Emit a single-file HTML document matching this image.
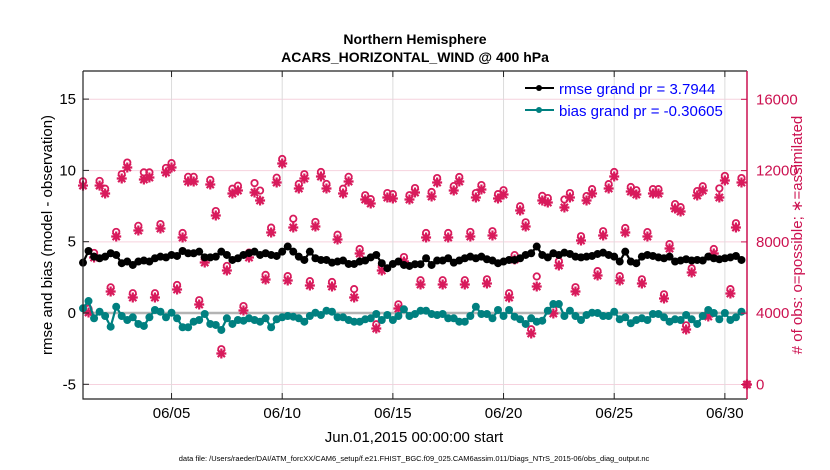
<!DOCTYPE html>
<html><head><meta charset="utf-8"><style>
body{margin:0;background:#fff;}
svg{display:block;font-family:"Liberation Sans",Arial,sans-serif;}
</style></head><body>
<svg id="chart" width="830" height="470" viewBox="0 0 830 470">
<text x="415" y="44" text-anchor="middle" font-size="14" font-weight="bold">Northern Hemisphere</text>
<text x="415" y="62" text-anchor="middle" font-size="14" font-weight="bold">ACARS_HORIZONTAL_WIND @ 400 hPa</text>
<g id="grid"></g>
<g id="marks"></g>
<g id="axes"></g>
<text transform="translate(52,235) rotate(-90)" text-anchor="middle" font-size="15">rmse and bias (model - observation)</text>
<text transform="translate(802,235) rotate(-90)" text-anchor="middle" font-size="15" fill="#cc1150"># of obs: o=possible; ∗=assimilated</text>
<text x="414" y="442" text-anchor="middle" font-size="15">Jun.01,2015 00:00:00 start</text>
<text x="414" y="461" text-anchor="middle" font-size="7.5">data file: /Users/raeder/DAI/ATM_forcXX/CAM6_setup/f.e21.FHIST_BGC.f09_025.CAM6assim.011/Diags_NTrS_2015-06/obs_diag_output.nc</text>
<g>
<line x1="525" y1="88" x2="554" y2="88" stroke="#000" stroke-width="2"/>
<circle cx="539" cy="88" r="3" fill="#000"/>
<text x="559" y="94" font-size="15" fill="#0000ff">rmse grand pr = 3.7944</text>
<line x1="525" y1="110" x2="554" y2="110" stroke="#008080" stroke-width="2"/>
<circle cx="539" cy="110" r="3" fill="#008080"/>
<text x="559" y="116" font-size="15" fill="#0000ff">bias grand pr = -0.30605</text>
</g>
</svg>
<script>
const rmse=[3.53,4.35,3.95,3.84,3.95,4.19,4.07,3.49,3.61,3.37,3.61,3.68,3.61,3.84,3.95,3.9,4.07,4.0,4.35,4.19,4.19,4.3,3.9,3.9,3.95,4.3,4.07,3.72,3.84,4.07,4.2,4.3,4.07,4.19,4.07,4.0,4.3,4.66,4.3,3.95,3.72,4.3,3.84,3.72,3.72,3.53,3.61,3.68,3.44,3.44,3.61,3.68,3.9,4.07,3.49,3.14,3.44,3.61,3.37,3.3,3.42,3.42,3.84,3.37,3.68,3.68,3.84,3.53,3.68,3.84,3.95,3.84,3.95,3.77,3.68,3.49,3.61,3.72,3.72,3.84,4.07,4.19,4.66,4.07,3.9,4.19,4.07,4.23,4.14,3.95,3.9,3.95,4.0,4.14,4.23,4.07,3.95,3.61,4.3,3.61,3.49,3.95,4.07,4.0,3.9,3.84,3.95,3.61,3.68,3.77,3.68,3.72,3.68,3.95,3.84,3.77,3.84,3.9,4.0,3.72];
const bias=[0.33,0.84,-0.37,0.09,-0.21,-0.96,0.44,-0.21,-0.49,-0.3,-0.77,-0.91,-0.3,0.21,0.09,-0.3,0.02,-0.37,-1.0,-1.0,-0.61,-0.49,-0.07,-0.77,-0.84,-1.19,-0.37,-0.77,-0.49,-0.54,-0.37,-0.49,-0.61,-0.37,-1.0,-0.44,-0.3,-0.21,-0.26,-0.37,-0.61,-0.21,0.02,-0.14,0.16,0.09,-0.3,-0.3,-0.49,-0.61,-0.61,-0.44,-0.37,-0.07,-0.49,-0.14,-0.49,-0.21,0.26,-0.21,-0.07,0.16,0.16,-0.07,-0.14,-0.07,-0.37,-0.37,-0.61,-0.61,-0.21,0.44,-0.07,-0.07,-0.37,0.21,-0.21,0.21,-0.26,-0.44,-0.77,-0.37,-0.61,-0.54,0.16,0.63,0.63,-0.21,0.16,-0.21,-0.49,-0.14,0.02,0,-0.21,-0.21,0.09,-0.44,-0.3,-0.72,-0.49,-0.37,-0.49,-0.07,-0.07,-0.3,-0.61,-0.44,-0.49,-0.14,-0.44,-0.77,-0.21,0.21,0,-0.44,0,-0.49,-0.3,0.09];
const nAssim=[11160,4040,7125,11160,10715,5217,8303,11557,12174,4881,8639,11500,11613,4881,8752,11893,12174,5330,8247,11388,11388,4488,6844,11220,9481,1739,6395,10715,10883,4151,7125,10771,10322,5890,8527,11332,12398,5834,8808,10996,11557,5554,8864,11669,10996,5498,8135,10715,11388,4881,7349,10379,10154,3142,6395,10491,10435,4264,6900,10379,10771,5610,8247,10547,11332,5610,8247,10883,11388,5610,8303,10491,10940,5666,8359,10435,10659,4881,7013,9761,8864,2861,5498,10322,10210,3983,6676,9930,10491,5217,8078,10322,10715,6115,8359,10996,11669,5834,8527,10827,10659,5666,8303,10715,10715,4825,7630,9874,9705,3086,6283,10603,10883,3815,7349,10491,11444,5105,8808,11332,0];
const nPoss=[11400,4250,7380,11420,10980,5450,8560,11800,12450,5120,8900,11900,11900,5120,9000,12150,12420,5580,8500,11650,11650,4730,7100,11480,9730,1980,6650,10980,11150,4400,7400,11300,10880,6150,8800,11600,12650,6080,9300,11250,11800,5800,9120,11920,11250,5750,8400,10980,11650,5350,7600,10620,10400,3380,6650,10740,10680,4500,7150,10620,11020,5850,8500,10800,11580,5850,8500,11130,11640,5850,8560,10740,11190,5900,8600,10680,10900,5120,7260,10000,9100,3100,6060,10580,10460,4220,6920,10380,10740,5460,8320,10570,10960,6360,8600,11240,11920,6080,8780,11080,10900,5900,8550,10960,10960,5060,7880,10120,9950,3320,6520,10850,11120,4060,7600,11000,11700,5350,9050,11580,0];
const xTickLabels=['06/05','06/10','06/15','06/20','06/25','06/30'];
const xTickDays=[4,9,14,19,24,29];
const yLeftTicks=[-5,0,5,10,15];
const yRightTicks=[0,4000,8000,12000,16000];

const L=83,R=747,T=71,B=399;
const sx=d=>L+(d/30)*(R-L);
const syL=v=>313-(v*71.3/5);
const syR=c=>384.5-(c*71.3/4000);
const NS='http://www.w3.org/2000/svg';
function mk(tag,attrs,parent){const e=document.createElementNS(NS,tag);for(const k in attrs)e.setAttribute(k,attrs[k]);parent.appendChild(e);return e;}
const grid=document.getElementById('grid'),marks=document.getElementById('marks'),axes=document.getElementById('axes');
yRightTicks.forEach(c=>{const l=mk('line',{x1:L,x2:R,y1:syR(c),y2:syR(c),stroke:'#f6d2de','stroke-width':1},grid);

});
xTickDays.forEach(d=>{const l=mk('line',{x1:sx(d),x2:sx(d),y1:T,y2:B,stroke:'#dcdcdc','stroke-width':1},grid);

});
const zl=mk('line',{x1:L,x2:R,y1:syL(0),y2:syL(0),stroke:'#b4b4b4','stroke-width':2.5},grid);


const dayOf=i=>i*0.25;
nPoss.forEach((c,i)=>{const c1=mk('circle',{cx:sx(dayOf(i)),cy:syR(c),r:3.2,fill:'none',stroke:'#d81b5c','stroke-width':1.8},marks);

});
nAssim.forEach((c,i)=>{const x=sx(dayOf(i)),y=syR(c),s=5,t=3.6;
const p=mk('path',{d:`M${x-s},${y}H${x+s}M${x},${y-s}V${y+s}M${x-t},${y-t}L${x+t},${y+t}M${x-t},${y+t}L${x+t},${y-t}`,stroke:'#d81b5c','stroke-width':2.2,fill:'none'},marks);

});
function series(arr,color,name){
const d=arr.map((v,i)=>(i?'L':'M')+sx(dayOf(i)).toFixed(1)+','+syL(v).toFixed(1)).join('');
const p=mk('path',{d:d,stroke:color,'stroke-width':2.2,fill:'none'},marks);


arr.forEach((v,i)=>{const c=mk('circle',{cx:sx(dayOf(i)),cy:syL(v),r:4,fill:color},marks);

});}
series(rmse,'#000','rmse');
series(bias,'#008080','bias');
const ab=mk('path',{d:`M${L},${T}H${R}M${L},${T}V${B}H${R}`,stroke:'#222','stroke-width':1.2,fill:'none'},axes);


const ra=mk('line',{x1:R,x2:R,y1:T,y2:B,stroke:'#cc1150','stroke-width':1.5},axes);


yLeftTicks.forEach(v=>{const y=syL(v);
mk('line',{x1:L,x2:L+6,y1:y,y2:y,stroke:'#222'},axes);
const t=mk('text',{x:L-7,y:y+5,'text-anchor':'end','font-size':15},axes);t.textContent=v;

});
yRightTicks.forEach(c=>{const y=syR(c);
mk('line',{x1:R-6,x2:R,y1:y,y2:y,stroke:'#cc1150'},axes);
const t=mk('text',{x:R+9,y:y+5,'font-size':15,fill:'#cc1150'},axes);t.textContent=c;

});
xTickDays.forEach((d,i)=>{const x=sx(d);
mk('line',{x1:x,x2:x,y1:B,y2:B-6,stroke:'#222'},axes);
mk('line',{x1:x,x2:x,y1:T,y2:T+6,stroke:'#222'},axes);
const t=mk('text',{x:x,y:B+19,'text-anchor':'middle','font-size':15},axes);t.textContent=xTickLabels[i];

});
</script>
</body></html>
